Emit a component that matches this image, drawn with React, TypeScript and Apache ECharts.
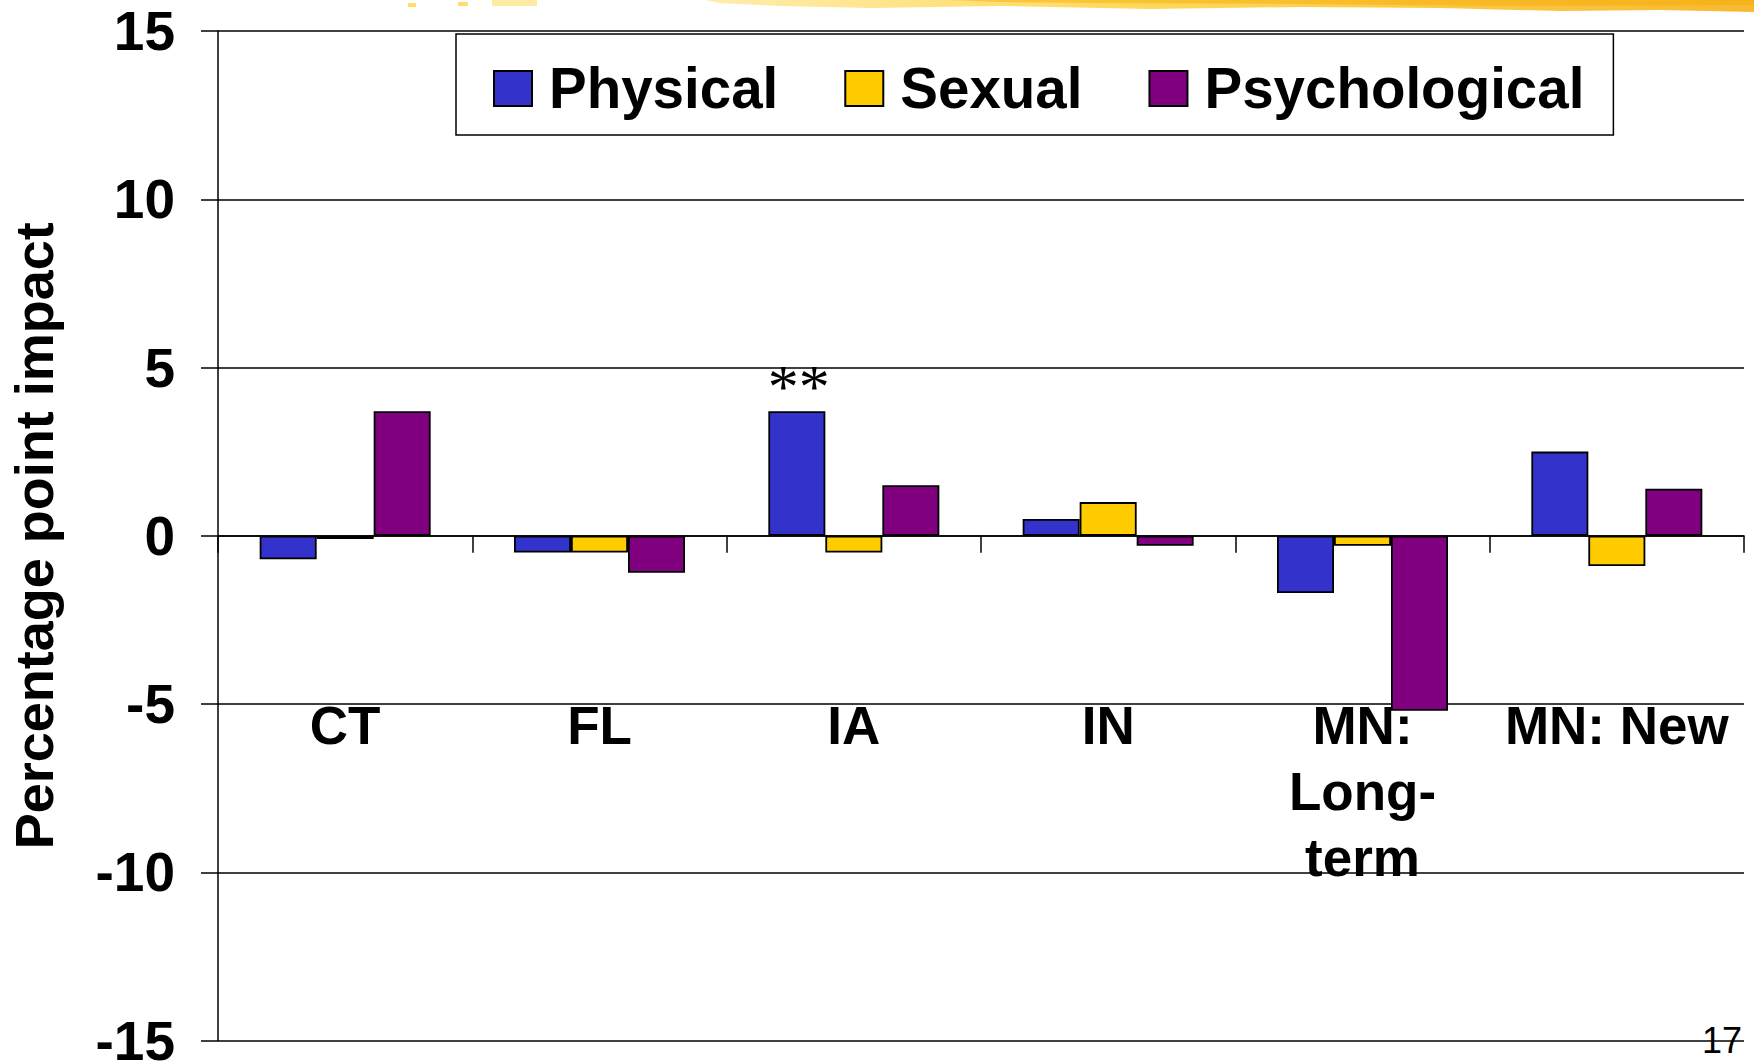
import React, { useEffect, useRef } from "react";
import * as echarts from "echarts";

const categories = ["CT", "FL", "IA", "IN", "MN:\nLong-\nterm", "MN: New"];
const seriesNames = ["Physical", "Sexual", "Psychological"];
const physical = [-0.7, -0.5, 3.7, 0.5, -1.7, 2.5];
const sexual = [-0.1, -0.5, -0.5, 1.0, -0.3, -0.9];
const psychological = [3.7, -1.1, 1.5, -0.3, -5.2, 1.4];
const physicalSignificance = ["", "", "**", "", "", ""];
const colors = ["#3333CC", "#FFCC00", "#800080"];
const yMin = -15;
const yMax = 15;
const yInterval = 5;
const slideNumber = "17";

const FONT = "'Liberation Sans', Arial, sans-serif";

export default function App() {
  const ref = useRef<HTMLDivElement>(null);
  useEffect(() => {
    if (!ref.current) return;
    const chart = echarts.init(ref.current, null, { renderer: "svg" });
    const barCommon = {
      type: "bar" as const,
      barWidth: 57,
      barGap: "0%",
      itemStyle: { borderColor: "#000", borderWidth: 1.8 },
    };
    const option: any = {
      animation: false,
      backgroundColor: "#fff",
      grid: {
        left: 218,
        right: 10,
        top: 31,
        bottom: 23.5,
        containLabel: false,
        outerBoundsMode: "none",
      },
      legend: {
        left: 456,
        top: 34,
        orient: "horizontal",
        itemWidth: 38,
        itemHeight: 35,
        itemGap: 66,
        padding: [26, 29, 18, 37],
        borderColor: "#000",
        borderWidth: 1.5,
        backgroundColor: "#fff",
        icon: "rect",
        textStyle: {
          fontFamily: FONT,
          fontWeight: "bold",
          fontSize: 56.5,
          lineHeight: 56,
          color: "#000",
          padding: [0, 0, 0, 12],
        },
        data: seriesNames,
      },
      xAxis: {
        type: "category",
        data: categories,
        axisLine: { show: true, onZero: true, lineStyle: { color: "#000", width: 1.5 } },
        axisTick: { show: true, inside: false, length: 17, lineStyle: { color: "#000", width: 1.5 } },
        axisLabel: {
          margin: -348.5,
          fontFamily: FONT,
          fontWeight: "bold",
          fontSize: 53,
          lineHeight: 66,
          color: "#000",
          interval: 0,
        },
        splitLine: { show: false },
      },
      yAxis: {
        type: "value",
        min: yMin,
        max: yMax,
        interval: yInterval,
        name: "Percentage point impact",
        nameLocation: "middle",
        nameGap: 157,
        nameTextStyle: {
          fontFamily: FONT,
          fontWeight: "bold",
          fontSize: 54,
          color: "#000",
        },
        axisLine: { show: true, lineStyle: { color: "#000", width: 1.5 } },
        axisTick: { show: true, inside: false, length: 17, lineStyle: { color: "#000", width: 1.5 } },
        axisLabel: {
          margin: 43,
          fontFamily: FONT,
          fontWeight: "bold",
          fontSize: 55,
          lineHeight: 40,
          color: "#000",
        },
        splitLine: { show: true, lineStyle: { color: "#000", width: 1.5 } },
      },
      series: [
        {
          ...barCommon,
          name: seriesNames[0],
          data: physical,
          itemStyle: { ...barCommon.itemStyle, color: colors[0] },
          label: {
            show: true,
            position: "top",
            distance: 0,
            offset: [2, 6],
            formatter: (p: any) => physicalSignificance[p.dataIndex],
            fontFamily: "'Liberation Serif', 'Times New Roman', serif",
            fontSize: 62,
            lineHeight: 62,
            color: "#000",
          },
        },
        {
          ...barCommon,
          name: seriesNames[1],
          data: sexual,
          itemStyle: { ...barCommon.itemStyle, color: colors[1] },
        },
        {
          ...barCommon,
          name: seriesNames[2],
          data: psychological,
          itemStyle: { ...barCommon.itemStyle, color: colors[2] },
        },
      ],
      graphic: [
        {
          type: "polygon",
          silent: true,
          shape: {
            points: [
              [705, 0], [1754, 0], [1754, 12], [1660, 10], [1560, 11], [1440, 8],
              [1300, 7], [1150, 9], [1000, 6], [870, 8], [780, 6], [720, 3],
            ],
          },
          style: {
            fill: new echarts.graphic.LinearGradient(0, 0, 1, 0, [
              { offset: 0, color: "#FFEBA6" },
              { offset: 0.4, color: "#FFD54A" },
              { offset: 1, color: "#F7B21A" },
            ]),
            opacity: 0.9,
          },
        },
        {
          type: "polygon",
          silent: true,
          shape: {
            points: [[950, 0], [1754, 0], [1754, 5], [1500, 6], [1300, 4], [1100, 3], [1000, 2]],
          },
          style: { fill: "#F5A800", opacity: 0.45 },
        },
        { type: "rect", silent: true, shape: { x: 408, y: 3, width: 8, height: 4 }, style: { fill: "#FFD54A", opacity: 0.8 } },
        { type: "rect", silent: true, shape: { x: 458, y: 2, width: 10, height: 4 }, style: { fill: "#FFD54A", opacity: 0.8 } },
        { type: "rect", silent: true, shape: { x: 492, y: 0, width: 45, height: 6 }, style: { fill: "#FFE58A", opacity: 0.8 } },
        {
          type: "text",
          silent: true,
          style: {
            text: slideNumber,
            x: 1742,
            y: 1040,
            align: "right",
            verticalAlign: "middle",
            fontFamily: FONT,
            fontSize: 36,
            fill: "#000",
          },
        },
      ],
    };
    chart.setOption(option);
    return () => chart.dispose();
  }, []);
  return (
    <div
      ref={ref}
      style={{ position: "absolute", left: 0, top: 0, width: 1754, height: 1064 }}
    />
  );
}
